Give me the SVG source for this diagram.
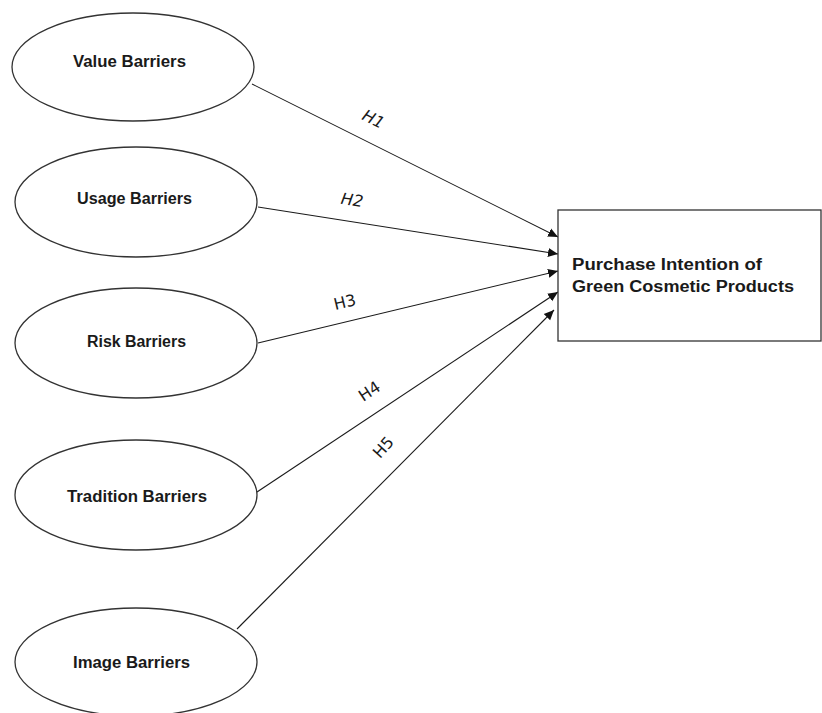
<svg xmlns="http://www.w3.org/2000/svg" width="822" height="713" viewBox="0 0 822 713">
<style>
.node ellipse, .node rect { fill: #ffffff; stroke: #333333; stroke-width: 1.3; }
.lbl { font-family: "Liberation Sans", Arial, sans-serif; font-weight: bold; font-size: 16px; fill: #1a1a1a; }
.conn line { stroke: #1a1a1a; stroke-width: 1.1; marker-end: url(#arr); }
.h { font-family: "DejaVu Sans", "Liberation Sans", sans-serif; font-size: 16px; fill: #1a1a1a; }
</style>
<defs>
<marker id="arr" viewBox="0 0 10 10" refX="10" refY="5" markerWidth="10" markerHeight="10" markerUnits="userSpaceOnUse" orient="auto">
<path d="M0,0.5 L10,5 L0,9.5 Z" fill="#111111"/>
</marker>
</defs>
<rect x="0" y="0" width="822" height="713" fill="#ffffff"/>
<g id="connectors" class="conn">
<line x1="252" y1="84" x2="558" y2="237"/>
<line x1="258" y1="207" x2="558" y2="254"/>
<line x1="258" y1="343" x2="558" y2="271"/>
<line x1="257" y1="492" x2="558" y2="292"/>
<line x1="237" y1="629" x2="554" y2="310"/>
</g>
<g id="edge-labels">
<text class="h" font-style="italic" transform="translate(373,120) rotate(26.6)" text-anchor="middle" dominant-baseline="middle">H1</text>
<text class="h" font-style="italic" transform="translate(352,201) rotate(8.9)" text-anchor="middle" dominant-baseline="middle">H2</text>
<text class="h" transform="translate(345,303) rotate(-13.5)" text-anchor="middle" dominant-baseline="middle">H3</text>
<text class="h" transform="translate(370,392) rotate(-33.6)" text-anchor="middle" dominant-baseline="middle">H4</text>
<text class="h" transform="translate(384,448) rotate(-48)" text-anchor="middle" dominant-baseline="middle">H5</text>
</g>
<g id="value" class="node">
<ellipse cx="133" cy="67" rx="121" ry="54"/>
<text class="lbl" x="73" y="67" textLength="113" lengthAdjust="spacingAndGlyphs">Value Barriers</text>
</g>
<g id="usage" class="node">
<ellipse cx="136" cy="202" rx="121" ry="55"/>
<text class="lbl" x="77" y="204" textLength="115" lengthAdjust="spacingAndGlyphs">Usage Barriers</text>
</g>
<g id="risk" class="node">
<ellipse cx="136" cy="343" rx="121" ry="55"/>
<text class="lbl" x="87" y="347" textLength="99" lengthAdjust="spacingAndGlyphs">Risk Barriers</text>
</g>
<g id="tradition" class="node">
<ellipse cx="136" cy="495" rx="121" ry="55"/>
<text class="lbl" x="67" y="502" textLength="140" lengthAdjust="spacingAndGlyphs">Tradition Barriers</text>
</g>
<g id="image" class="node">
<ellipse cx="136" cy="662" rx="121" ry="54"/>
<text class="lbl" x="73" y="668" textLength="117" lengthAdjust="spacingAndGlyphs">Image Barriers</text>
</g>
<g id="purchase" class="node">
<rect x="558" y="210" width="263" height="131"/>
<text class="lbl" x="572" y="270" textLength="190" lengthAdjust="spacingAndGlyphs">Purchase Intention of</text>
<text class="lbl" x="572" y="292" textLength="222" lengthAdjust="spacingAndGlyphs">Green Cosmetic Products</text>
</g>
</svg>
